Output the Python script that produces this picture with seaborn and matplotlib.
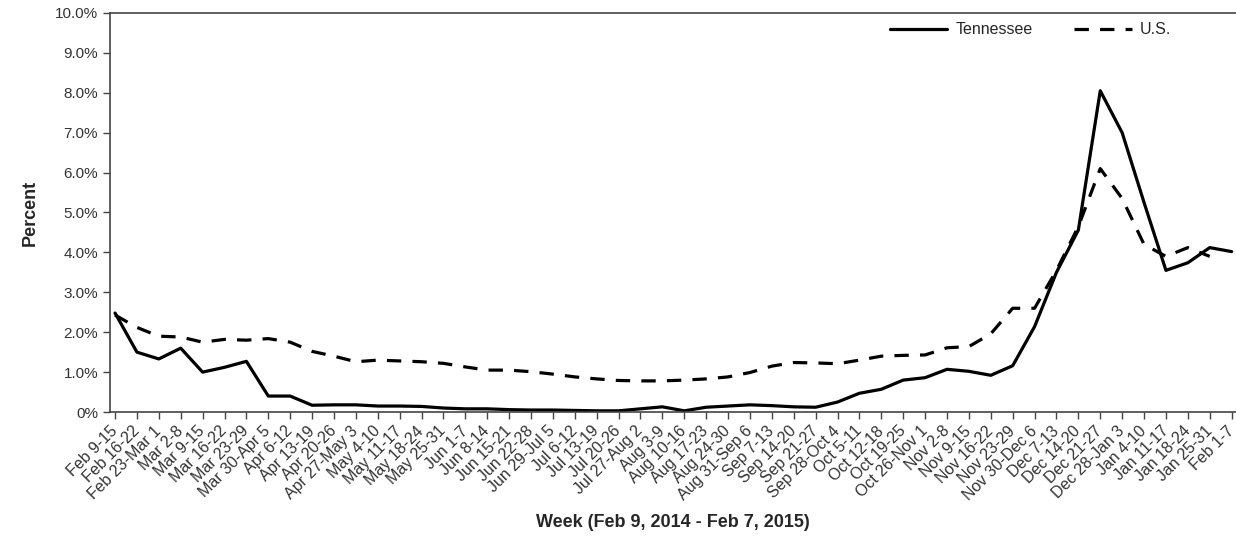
import numpy as np
import pandas as pd
import matplotlib
matplotlib.use("Agg")
import matplotlib.pyplot as plt
import matplotlib.transforms as mtransforms
import seaborn as sns

# weekly labels, Feb 9, 2014 - Feb 7, 2015
weeks = [
    "Feb 9-15", "Feb 16-22", "Feb 23-Mar 1", "Mar 2-8", "Mar 9-15", "Mar 16-22",
    "Mar 23-29", "Mar 30-Apr 5", "Apr 6-12", "Apr 13-19", "Apr 20-26", "Apr 27-May 3",
    "May 4-10", "May 11-17", "May 18-24", "May 25-31", "Jun 1-7", "Jun 8-14",
    "Jun 15-21", "Jun 22-28", "Jun 29-Jul 5", "Jul 6-12", "Jul 13-19", "Jul 20-26",
    "Jul 27-Aug 2", "Aug 3-9", "Aug 10-16", "Aug 17-23", "Aug 24-30", "Aug 31-Sep 6",
    "Sep 7-13", "Sep 14-20", "Sep 21-27", "Sep 28-Oct 4", "Oct 5-11", "Oct 12-18",
    "Oct 19-25", "Oct 26-Nov 1", "Nov 2-8", "Nov 9-15", "Nov 16-22", "Nov 23-29",
    "Nov 30-Dec 6", "Dec 7-13", "Dec 14-20", "Dec 21-27", "Dec 28-Jan 3", "Jan 4-10",
    "Jan 11-17", "Jan 18-24", "Jan 25-31", "Feb 1-7",
]

# percent of visits for ILI
tennessee = [
    2.48, 1.50, 1.33, 1.60, 1.00, 1.12, 1.27, 0.40, 0.40, 0.17,
    0.18, 0.18, 0.15, 0.15, 0.14, 0.10, 0.08, 0.08, 0.06, 0.05,
    0.05, 0.04, 0.03, 0.03, 0.08, 0.13, 0.03, 0.12, 0.15, 0.18,
    0.16, 0.13, 0.12, 0.25, 0.47, 0.57, 0.80, 0.86, 1.07, 1.02,
    0.92, 1.16, 2.14, 3.50, 4.56, 8.05, 7.00, 5.25, 3.55, 3.74,
    4.12, 4.02,
]
us = [
    2.43, 2.12, 1.90, 1.88, 1.75, 1.82, 1.80, 1.84, 1.75, 1.52,
    1.40, 1.26, 1.30, 1.28, 1.26, 1.22, 1.13, 1.05, 1.05, 1.01,
    0.95, 0.88, 0.83, 0.79, 0.78, 0.78, 0.80, 0.83, 0.88, 0.99,
    1.15, 1.24, 1.23, 1.21, 1.30, 1.40, 1.42, 1.43, 1.61, 1.64,
    1.96, 2.60, 2.60, 3.55, 4.65, 6.10, 5.35, 4.20, 3.90, 4.12,
    3.90, np.nan,
]

df = pd.DataFrame({"week": np.arange(len(weeks)), "Tennessee": tennessee, "U.S.": us})
long_df = df.melt(id_vars="week", var_name="series", value_name="pct")

sns.set_style("white")
plt.rcParams["font.family"] = ["Liberation Sans", "DejaVu Sans"]

fig = plt.figure(figsize=(12.36, 5.4), dpi=100)
ax = fig.add_axes([0.089, 0.237, 0.911, 0.739])

sns.lineplot(data=long_df, x="week", y="pct", style="series",
             dashes={"Tennessee": "", "U.S.": (4.5, 3.5)},
             color="black", linewidth=2.3, ax=ax)

ax.set_xlim(-0.23, 51.2)
ax.set_ylim(0, 10)
ax.set_yticks(np.arange(0, 11, 1))
ax.set_yticklabels(["0%"] + [f"{v:.1f}%" for v in range(1, 11)])
ax.set_xticks(df["week"])
ax.set_xticklabels(weeks, rotation=45, ha="right", va="center", rotation_mode="anchor")

# labels in the original creep slightly left of their ticks towards the right end
n = len(weeks)
for i, lbl in enumerate(ax.get_xticklabels()):
    dx = (1 - 18 * i / (n - 1)) / 100
    lbl.set_transform(lbl.get_transform() +
                      mtransforms.ScaledTranslation(dx, 0, fig.dpi_scale_trans))

edge = "#444444"
for side in ["left", "bottom", "top"]:
    ax.spines[side].set_color(edge)
    ax.spines[side].set_linewidth(1.2)
ax.spines["right"].set_visible(False)
ax.tick_params(axis="both", direction="out", length=5, width=1, color=edge,
               labelsize=11, labelcolor="#333333", left=True, bottom=True)
ax.tick_params(axis="x", labelsize=11.5, pad=7)

ax.set_xlabel("Week (Feb 9, 2014 - Feb 7, 2015)", fontsize=13, fontweight="bold")
ax.set_ylabel("Percent", fontsize=13, fontweight="bold")
ax.xaxis.set_label_coords(0.5, -0.255)
ax.yaxis.set_label_coords(-0.063, 0.5)

ax.legend(title=None, loc="upper right", bbox_to_anchor=(0.955, 1.013), ncol=2,
          frameon=False, fontsize=11.5, handlelength=3.6, handletextpad=0.5,
          columnspacing=2.6)

fig.savefig("out.png", dpi=100)
